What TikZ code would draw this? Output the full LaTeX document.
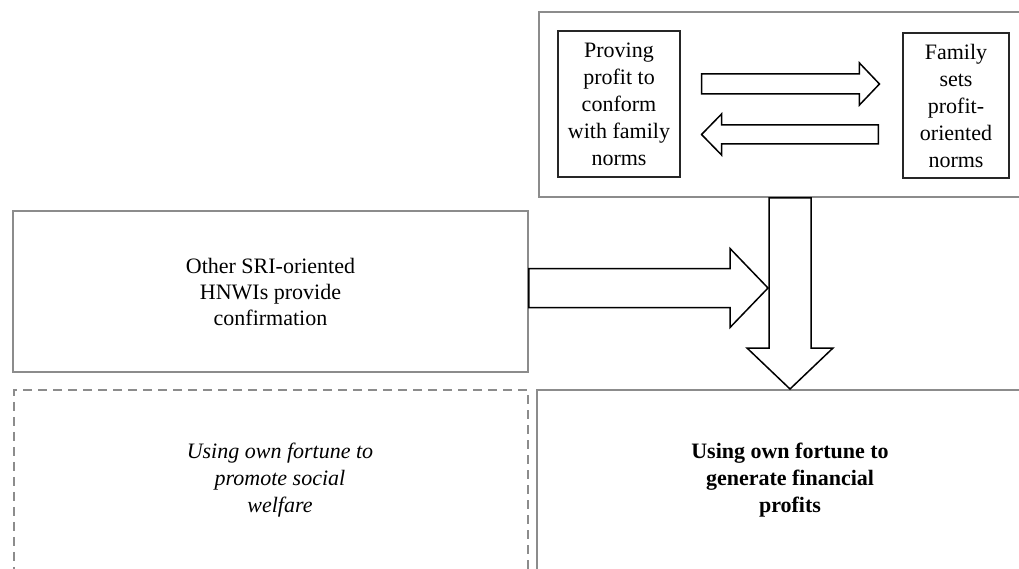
\documentclass[tikz,border=0pt]{standalone}
\usepackage{fontspec}
\setmainfont{Liberation Serif}
\usetikzlibrary{positioning,calc}

% hollow block arrow: from, to, half shaft, half head, head length
\newcommand{\blockarrow}[5]{%
	\coordinate (hb) at ($(#2)!#5!(#1)$);
	\draw[blockarrow] ($(#1)!#3!90:(#2)$) -- ($(hb)!#3!90:(#2)$)
		-- ($(hb)!#4!90:(#2)$) -- (#2) -- ($(hb)!#4!-90:(#2)$)
		-- ($(hb)!#3!-90:(#2)$) -- ($(#1)!#3!-90:(#2)$) -- cycle;
}

\begin{document}
\begin{tikzpicture}[x=1pt,y=-1pt,
	frame/.style={draw=black!45, line width=1.8pt, inner sep=0pt},
	smallbox/.style={draw=black!85, line width=1.1pt, inner sep=0pt, align=center,
		font=\fontsize{22}{27}\selectfont},
	blockarrow/.style={draw=black, fill=white, line width=1.5pt, line join=miter}]

		\useasboundingbox (0,0) rectangle (1019,569);
		\clip (0,0) rectangle (1019,569);

		\node[frame,
			anchor=north west,
			minimum width=500pt,
			minimum height=185pt] (family) at (538,11) {};

		\node[smallbox,
			minimum width=122pt,
			minimum height=146pt] (prove) at (619,104)
			{Proving\\profit to\\conform\\with family\\norms};

		\node[smallbox,
			minimum width=106pt,
			minimum height=145pt] (sets) at (956,105.5)
			{Family\\sets\\profit-\\oriented\\norms};

		\node[frame,
			align=center,
			font=\fontsize{22}{26}\selectfont,
			minimum width=515pt,
			minimum height=161pt] (other) at (270.5,291.5)
			{Other SRI-oriented\\HNWIs provide\\confirmation};

		\node[frame,
			dashed,
			dash pattern=on 9pt off 6pt,
			anchor=north west,
			minimum width=514pt,
			minimum height=220pt] (welfarebox) at (13,389) {};

		\node[frame,
			anchor=north west,
			minimum width=520pt,
			minimum height=220pt] (profitbox) at (536,389) {};

		\node[align=center,
			font=\fontsize{22}{27}\selectfont\itshape] (welfare) at (280,480)
			{Using own fortune to\\promote social\\welfare};

		\node[align=center,
			font=\fontsize{22}{27}\selectfont\bfseries] (profits) at (790,480)
			{Using own fortune to\\generate financial\\profits};

		% arrows
		\coordinate (p2f) at ([xshift=21pt,yshift=20pt]prove.east);
		\coordinate (f2p) at ([xshift=-23pt,yshift=21.5pt]sets.west);
		\coordinate (f2pl) at ([xshift=-24pt,yshift=-29pt]sets.west);
		\coordinate (p2fl) at ([xshift=21pt,yshift=-30.5pt]prove.east);
		\coordinate (dtop) at (family.south -| profits);
		\coordinate (dbot) at (profitbox.north -| profits);
		\coordinate (srif) at ([yshift=3.5pt]other.east);
		\coordinate (join) at ($(srif -| profits)+(-22,0)$);

		\blockarrow{p2f}{f2p}{10pt}{21pt}{20pt}
		\blockarrow{f2pl}{p2fl}{9.5pt}{20.5pt}{20pt}
		\blockarrow{dtop}{dbot}{21pt}{43pt}{41pt}
		\blockarrow{srif}{join}{19.5pt}{39.5pt}{38pt}

\end{tikzpicture}
\end{document}
